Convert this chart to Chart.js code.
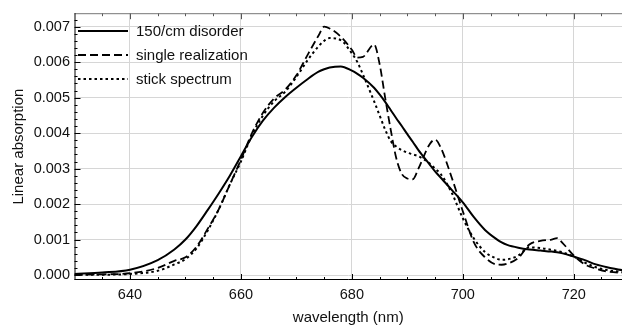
<!DOCTYPE html>
<html>
<head>
<meta charset="utf-8">
<script src="https://cdn.jsdelivr.net/npm/chart.js@4.4.1/dist/chart.umd.min.js"></script>
<style>
    html, body { margin: 0; padding: 0; background: #fff; }
    #wrap { width: 622px; height: 335px; }
</style>
</head>
<body>
<div id="wrap"><canvas id="chart" width="622" height="335"></canvas></div>
<script>
// values
const wavelengths = [630, 635, 640, 645, 648, 650, 652, 654, 656, 658, 660, 662, 664, 666, 668, 670, 672, 674, 675, 676,
    678, 680, 681, 682, 684, 685, 686, 687, 688, 689, 690, 691, 692, 694, 695, 696, 698, 700, 702, 704,
    706, 707, 708, 710, 712, 714, 716, 717, 718, 720, 722, 724, 726, 729];

const disorder150 = [0.00003, 0.00007, 0.00015, 0.00042, 0.00072, 0.00100, 0.00138, 0.00183, 0.00230, 0.00280,
    0.00335, 0.00390, 0.00436, 0.00472, 0.00502, 0.00528, 0.00552, 0.00573, 0.00580, 0.00585,
    0.00588, 0.00576, 0.00567, 0.00556, 0.00528, 0.00509, 0.00488, 0.00465, 0.00442, 0.00420,
    0.00397, 0.00375, 0.00352, 0.00312, 0.00292, 0.00275, 0.00240, 0.00205, 0.00163, 0.00127,
    0.00102, 0.00092, 0.00085, 0.00077, 0.00072, 0.00069, 0.00066, 0.00064, 0.00061, 0.00052,
    0.00042, 0.00030, 0.00022, 0.00013];

const singleRealization = [0.00001, 0.00002, 0.00005, 0.00020, 0.00040, 0.00050, 0.00080, 0.00130, 0.00185, 0.00255,
    0.00325, 0.00400, 0.00458, 0.00498, 0.00523, 0.00563, 0.00620, 0.00675, 0.00700, 0.00695,
    0.00672, 0.00635, 0.00613, 0.00615, 0.00650, 0.00595, 0.00500, 0.00410, 0.00330, 0.00285,
    0.00272, 0.00270, 0.00300, 0.00368, 0.00382, 0.00360, 0.00275, 0.00180, 0.00092, 0.00050,
    0.00030, 0.00029, 0.00032, 0.00048, 0.00086, 0.00096, 0.00100, 0.00104, 0.00090, 0.00055,
    0.00030, 0.00018, 0.00010, 0.00006];

const stickSpectrum = [0.00001, 0.00001, 0.00003, 0.00012, 0.00030, 0.00045, 0.00075, 0.00125, 0.00185, 0.00255,
    0.00320, 0.00395, 0.00450, 0.00490, 0.00517, 0.00558, 0.00605, 0.00645, 0.00660, 0.00668,
    0.00662, 0.00625, 0.00600, 0.00565, 0.00490, 0.00450, 0.00410, 0.00378, 0.00362, 0.00352,
    0.00345, 0.00340, 0.00335, 0.00315, 0.00300, 0.00285, 0.00232, 0.00160, 0.00103, 0.00065,
    0.00047, 0.00043, 0.00044, 0.00055, 0.00078, 0.00076, 0.00071, 0.00068, 0.00064, 0.00052,
    0.00035, 0.00022, 0.00014, 0.00008];

const seriesLabels = ['150/cm disorder', 'single realization', 'stick spectrum'];
const xTicks = [640, 660, 680, 700, 720];
const yTicks = [0, 0.001, 0.002, 0.003, 0.004, 0.005, 0.006, 0.007];

const FONT = "'Liberation Sans', Arial, Helvetica, sans-serif";

function toPoints(values) {
    return values.map((v, i) => ({x: wavelengths[i], y: v}));
}

function makeDataset(label, values, dash, width) {
    return {
        label: label,
        data: toPoints(values),
        borderColor: '#000',
        borderWidth: width,
        borderDash: dash,
        pointRadius: 0,
        fill: false,
        cubicInterpolationMode: 'monotone'
    };
}

// Mathematica style frame with inward ticks
const framePlugin = {
    id: 'frame',
    afterDatasetsDraw(chart) {
        const ctx = chart.ctx;
        const area = chart.chartArea;
        const x = chart.scales.x;
        const y = chart.scales.y;
        ctx.save();
        ctx.lineWidth = 1;

        // left ticks
        ctx.strokeStyle = '#000';
        for (let v = 0; v <= 0.0074; v += 0.0002) {
            const py = Math.round(y.getPixelForValue(v)) + 0.5;
            if (py < area.top + 1 || py > area.bottom) continue;
            const major = Math.abs(v * 1000 - Math.round(v * 1000)) < 1e-6;
            ctx.beginPath();
            ctx.moveTo(area.left, py);
            ctx.lineTo(area.left + (major ? 6 : 3), py);
            ctx.stroke();
        }
        // bottom + top ticks
        for (let v = 635; v <= 725; v += 5) {
            const px = Math.round(x.getPixelForValue(v)) + 0.5;
            const major = v % 20 === 0;
            ctx.strokeStyle = '#000';
            ctx.beginPath();
            ctx.moveTo(px, area.bottom);
            ctx.lineTo(px, area.bottom - (major ? 6 : 3));
            ctx.stroke();
            ctx.strokeStyle = '#555';
            ctx.beginPath();
            ctx.moveTo(px, area.top);
            ctx.lineTo(px, area.top + (major ? 6 : 3));
            ctx.stroke();
        }

        // frame lines
        ctx.strokeStyle = '#777';
        ctx.beginPath();
        ctx.moveTo(area.left, area.top + 0.5);
        ctx.lineTo(area.right, area.top + 0.5);
        ctx.stroke();
        ctx.strokeStyle = '#000';
        ctx.beginPath();
        ctx.moveTo(area.left + 0.5, area.top);
        ctx.lineTo(area.left + 0.5, area.bottom);
        ctx.moveTo(area.left, area.bottom - 0.5);
        ctx.lineTo(area.right, area.bottom - 0.5);
        ctx.stroke();
        ctx.restore();
    }
};

// legend inside the top left corner of the plot
const legendPlugin = {
    id: 'innerLegend',
    afterDraw(chart) {
        const ctx = chart.ctx;
        const rows = [31, 55, 79];
        ctx.save();
        ctx.font = '15px ' + FONT;
        ctx.fillStyle = '#111';
        ctx.textBaseline = 'middle';
        chart.data.datasets.forEach((ds, i) => {
            ctx.strokeStyle = ds.borderColor;
            ctx.lineWidth = ds.borderWidth;
            ctx.setLineDash(ds.borderDash || []);
            ctx.beginPath();
            ctx.moveTo(78, rows[i]);
            ctx.lineTo(128, rows[i]);
            ctx.stroke();
            ctx.fillText(ds.label, 136, rows[i] + 1);
        });
        ctx.restore();
    }
};

new Chart(document.getElementById('chart'), {
    type: 'line',
    data: {
        datasets: [
            makeDataset(seriesLabels[0], disorder150, [], 2),
            makeDataset(seriesLabels[1], singleRealization, [8, 4], 1.8),
            makeDataset(seriesLabels[2], stickSpectrum, [2.5, 3], 2)
        ]
    },
    options: {
        responsive: false,
        animation: false,
        layout: {padding: {left: 0, top: 3, right: 0, bottom: 0}},
        plugins: {
            legend: {display: false},
            tooltip: {enabled: false}
        },
        scales: {
            x: {
                type: 'linear',
                min: 630,
                max: 728.7,
                afterBuildTicks: (scale) => { scale.ticks = xTicks.map(v => ({value: v})); },
                afterFit: (scale) => { scale.height = 55; },
                grid: {color: '#d6d6d6', lineWidth: 1, drawTicks: false},
                border: {display: false},
                ticks: {
                    padding: 6,
                    color: '#111',
                    font: {family: FONT, size: 14.5},
                    maxRotation: 0
                },
                title: {
                    display: true,
                    text: 'wavelength (nm)',
                    color: '#111',
                    font: {family: FONT, size: 15},
                    padding: {top: 0, bottom: 8}
                }
            },
            y: {
                type: 'linear',
                min: -0.00014,
                max: 0.00738,
                afterBuildTicks: (scale) => { scale.ticks = yTicks.map(v => ({value: v})); },
                afterFit: (scale) => { scale.width = 74.5; },
                grid: {color: '#d6d6d6', lineWidth: 1, drawTicks: false},
                border: {display: false},
                ticks: {
                    padding: 4.5,
                    color: '#111',
                    font: {family: FONT, size: 14.5},
                    callback: (v) => v.toFixed(3)
                },
                title: {
                    display: true,
                    text: 'Linear absorption',
                    color: '#111',
                    font: {family: FONT, size: 15},
                    padding: {top: 9.5, bottom: 0}
                }
            }
        }
    },
    plugins: [framePlugin, legendPlugin]
});
</script>
</body>
</html>
